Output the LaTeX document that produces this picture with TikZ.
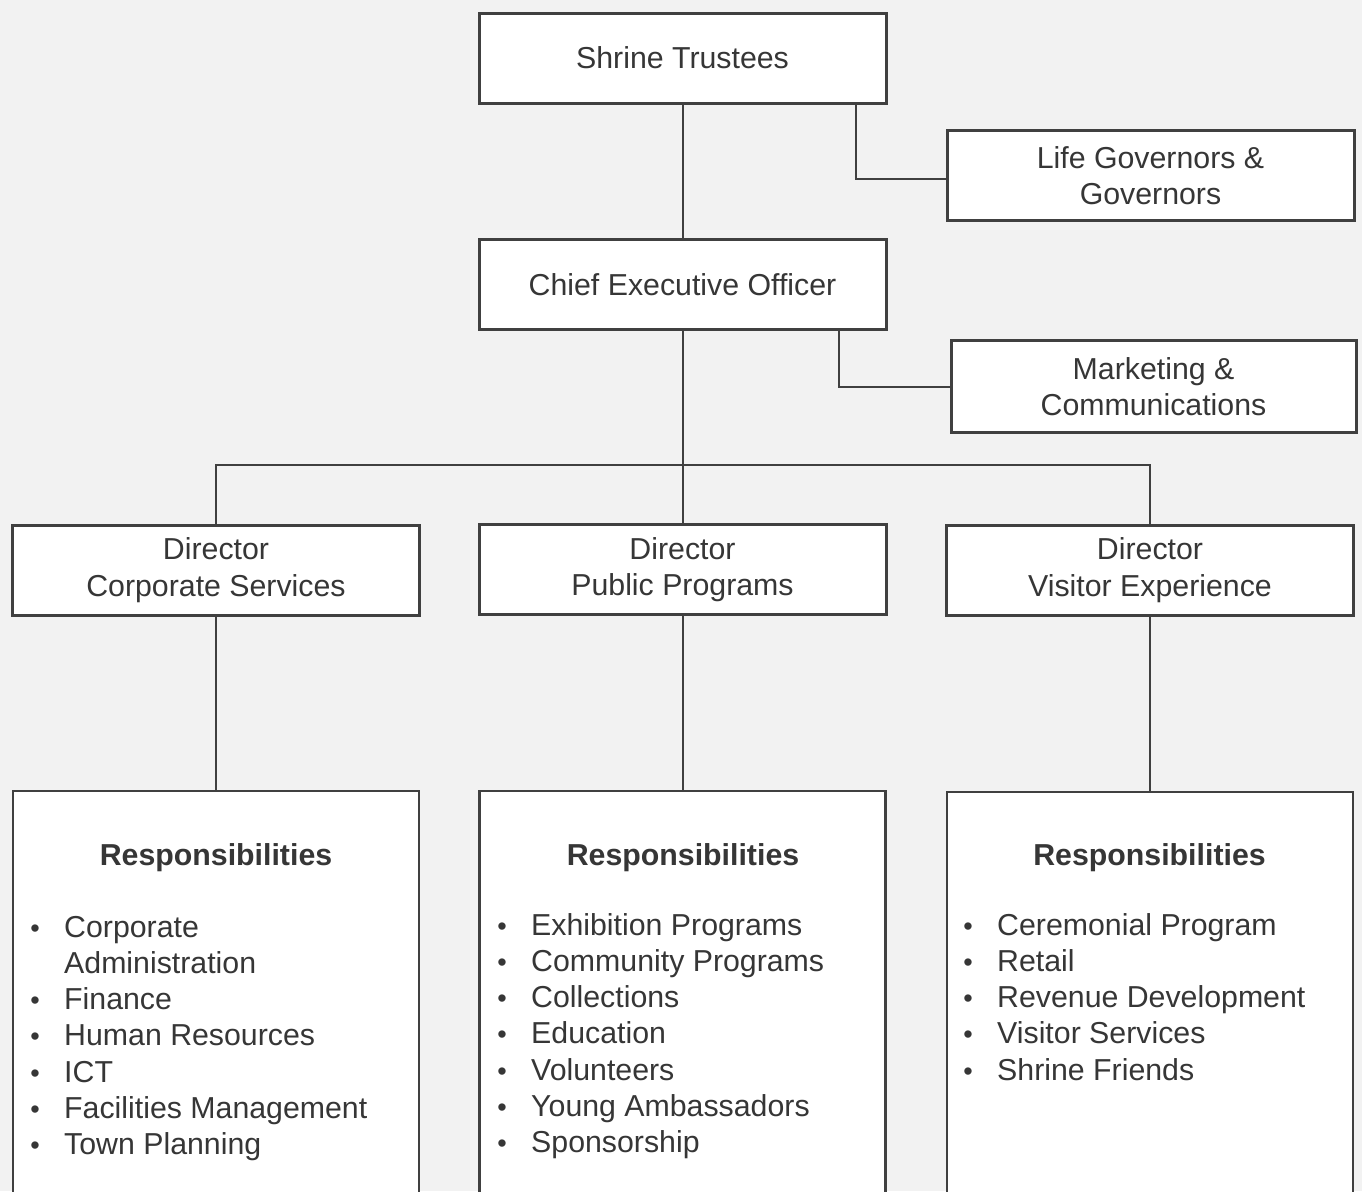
\documentclass[tikz,border=0pt]{standalone}
\usepackage{fontspec}
\setmainfont{Liberation Sans}
\definecolor{bg}{HTML}{F2F2F2}
\definecolor{ln}{HTML}{404040}
\definecolor{tx}{HTML}{363636}
\begin{document}
\begin{tikzpicture}[x=1pt,y=-1pt,
  box/.style={draw=ln, line width=3pt, fill=white, rectangle, inner sep=0pt, align=center, text=tx,
    font=\fontsize{30.3}{36.5}\selectfont, minimum width=407pt, minimum height=90pt},
  resp/.style={draw=ln, line width=2.4pt, fill=white, rectangle, inner sep=0pt, minimum width=406pt, minimum height=430pt},
  conn/.style={draw=ln, line width=2pt},
  ttl/.style={anchor=base, inner sep=0pt, text=tx, font=\fontsize{30.3}{36}\selectfont\bfseries},
  itm/.style={anchor=base west, inner sep=0pt, text=tx, font=\fontsize{30.3}{36}\selectfont},
  bul/.style={anchor=base, inner sep=0pt, text=tx, font=\fontsize{27}{36}\selectfont},
]
\clip (0,0) rectangle (1362,1191);
\fill[bg] (0,0) rectangle (1362,1191);

% boxes
\node[box] (st) at (682.5,58) {Shrine Trustees};
\node[box] (lg) at (1150.5,175.5) {Life Governors \&\\Governors};
\node[box] (ceo) at (682.5,284.5) {Chief Executive Officer};
\node[box, minimum height=92pt, minimum width=405pt] (mk) at (1153.5,386.5) {Marketing \&\\Communications};
\node[box] (dcs) at (216,570) {Director\\Corporate Services};
\node[box] (dpp) at (682.5,569.5) {Director\\Public Programs};
\node[box] (dve) at (1150,570) {Director\\Visitor Experience};
\node[resp] (rcs) at (216,1006) {};
\node[resp] (rpp) at (682.5,1006) {};
\node[resp] (rve) at (1150,1007) {};

% connectors
\coordinate (bus) at (682.5,465);
\draw[conn] (st.south) -- (ceo.north);
\draw[conn] ([xshift=173pt]st.south) |- ([yshift=-3pt]lg.west);
\draw[conn] ([xshift=156pt]ceo.south) |- (mk.west);
\draw[conn] (ceo.south) -- (dpp.north);
\draw[conn] (dcs.north) |- (bus) -| (dve.north);
\draw[conn] (dcs.south) -- (rcs.north);
\draw[conn] (dpp.south) -- (rpp.north);
\draw[conn] (dve.south) -- (rve.north);

% titles
\node[ttl] (tcs) at (216,865) {Responsibilities};
\node[ttl] (tpp) at (683,865) {Responsibilities};
\node[ttl] (tve) at (1149.5,865) {Responsibilities};

% Corporate Services list
\foreach \t [count=\i from 0] in {Corporate,Administration,Finance,Human Resources,ICT,Facilities Management,Town Planning}{
  \node[itm] (cs\i) at (64,937+36.3*\i) {\t};
}
\foreach \i in {0,2,3,4,5,6}{
  \node[bul] (bcs\i) at (35,937+36.3*\i) {•};
}
% Public Programs list
\foreach \t [count=\i from 0] in {Exhibition Programs,Community Programs,Collections,Education,Volunteers,Young Ambassadors,Sponsorship}{
  \node[itm] (pp\i) at (531,935+36.3*\i) {\t};
  \node[bul] (bpp\i) at (502,935+36.3*\i) {•};
}
% Visitor Experience list
\foreach \t [count=\i from 0] in {Ceremonial Program,Retail,Revenue Development,Visitor Services,Shrine Friends}{
  \node[itm] (ve\i) at (997,935+36.3*\i) {\t};
  \node[bul] (bve\i) at (968,935+36.3*\i) {•};
}
\end{tikzpicture}
\end{document}
